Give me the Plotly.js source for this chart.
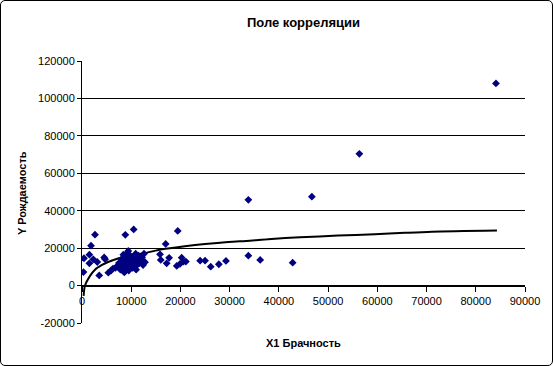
<!DOCTYPE html>
<html>
<head>
<meta charset="utf-8">
<script src="https://cdn.plot.ly/plotly-3.0.1.min.js"></script>
<style>
html,body{margin:0;padding:0;background:#fff;}
#wrap{position:relative;width:553px;height:366px;}
#chart{position:absolute;left:0;top:0;width:553px;height:366px;}
#frame{position:absolute;left:0;top:0;width:551px;height:364px;border:1px solid #000;border-radius:5px;pointer-events:none;}
</style>
</head>
<body>
<div id="wrap"><div id="chart"></div><div id="frame"></div></div>
<script>
// X1 Брачность (marriages) and Y Рождаемость (births)
var xValues = [300, 400, 1500, 1500, 1830, 2640, 2300, 3100, 3500, 4500, 4700, 5350, 5900, 6300,
  8800, 10500, 19450, 17000, 15850, 16000, 17200, 17700, 20250, 20600, 19900, 19250, 21100,
  24000, 25000, 26150, 27800, 29250, 33800, 33800, 36200, 42800, 46700, 56350, 84100,
  6800, 7200, 7500, 7800, 8000, 8200, 8400, 8500, 8700, 8900, 9000, 9200, 9300, 9500, 9600,
  9800, 10000, 10100, 10300, 10500, 10700, 10900, 11000, 11200, 11500, 11700, 12000, 12200,
  12400, 12600, 12800, 9400, 8600, 11000];
var yValues = [7200, 14600, 11900, 16500, 21300, 27200, 14000, 12600, 5400, 15000, 14100, 6900, 8000, 9100,
  27100, 30000, 29200, 22250, 16700, 13700, 11900, 14800, 14900, 12800, 11550, 10500, 12800,
  13300, 13300, 10100, 11400, 13150, 45800, 16000, 13700, 12250, 47500, 70400, 108000,
  9500, 10500, 12000, 8500, 14000, 11000, 16500, 9000, 13000, 15000, 10000, 17500, 12000, 8000, 14000,
  16000, 11000, 13500, 9500, 15500, 12500, 17000, 10500, 14000, 16000, 12000, 13500, 15000,
  11000, 17000, 12500, 18500, 7000, 8500];
// logarithmic trend line
var trendX = [330, 610, 1630, 2640, 4060, 5280, 7300, 10360, 12800, 16300, 20900, 25000, 29700,
  34100, 37800, 44300, 52000, 59500, 65600, 71100, 84300];
var trendY = [-5500, 0, 5200, 8500, 11000, 12600, 14500, 16400, 17400, 19400, 21000, 22200, 23300,
  24000, 24800, 25800, 26700, 27400, 28200, 28800, 29400];
var xTicks = [0, 10000, 20000, 30000, 40000, 50000, 60000, 70000, 80000, 90000];
var yTicks = [-20000, 0, 20000, 40000, 60000, 80000, 100000, 120000];

var FONT = 'Arial, "Liberation Sans", sans-serif';
var traces = [
  {x: trendX, y: trendY, type: 'scatter', mode: 'lines',
   line: {color: '#000000', width: 2, shape: 'spline', smoothing: 0.8}, hoverinfo: 'skip'},
  {x: xValues, y: yValues, type: 'scatter', mode: 'markers',
   marker: {symbol: 'diamond', size: 6, color: '#000080', line: {width: 0}}}
];
var layout = {
  width: 553, height: 366,
  margin: {l: 82, r: 28, t: 61, b: 43},
  paper_bgcolor: '#ffffff', plot_bgcolor: '#ffffff',
  showlegend: false,
  font: {family: FONT, size: 11, color: '#000'},
  title: {text: '<b>Поле корреляции</b>', font: {family: FONT, size: 13, color: '#000'},
          x: 0.5, xref: 'paper', xanchor: 'center', y: 1 - 22/366, yanchor: 'middle'},
  xaxis: {range: [0, 90000], tickvals: xTicks, ticktext: xTicks.map(String),
          showgrid: false, zeroline: false, showline: true, linecolor: '#000', linewidth: 1,
          ticks: 'outside', ticklen: 5, tickcolor: '#000', tickwidth: 1,
          anchor: 'free', position: 1/7,
          tickfont: {family: FONT, size: 11, color: '#000'}},
  yaxis: {range: [-20000, 120000], tickvals: yTicks, ticktext: yTicks.map(String),
          showgrid: true, gridcolor: '#000', gridwidth: 1, zeroline: false,
          showline: true, linecolor: '#000', linewidth: 1,
          ticks: 'outside', ticklen: 4, tickcolor: '#000',
          tickfont: {family: FONT, size: 11, color: '#000'}},
  annotations: [
    {text: '<b>X1 Брачность</b>', xref: 'paper', yref: 'paper', x: 0.5, y: -20/262,
     xanchor: 'center', yanchor: 'middle', showarrow: false, font: {family: FONT, size: 11, color: '#000'}},
    {text: '<b>Y Рождаемость</b>', xref: 'paper', yref: 'paper', x: -60/443, y: (323-193)/262,
     xanchor: 'center', yanchor: 'middle', textangle: -90, showarrow: false,
     font: {family: FONT, size: 11, color: '#000'}}
  ]
};
Plotly.newPlot('chart', traces, layout, {staticPlot: true, displayModeBar: false});
</script>
</body>
</html>
